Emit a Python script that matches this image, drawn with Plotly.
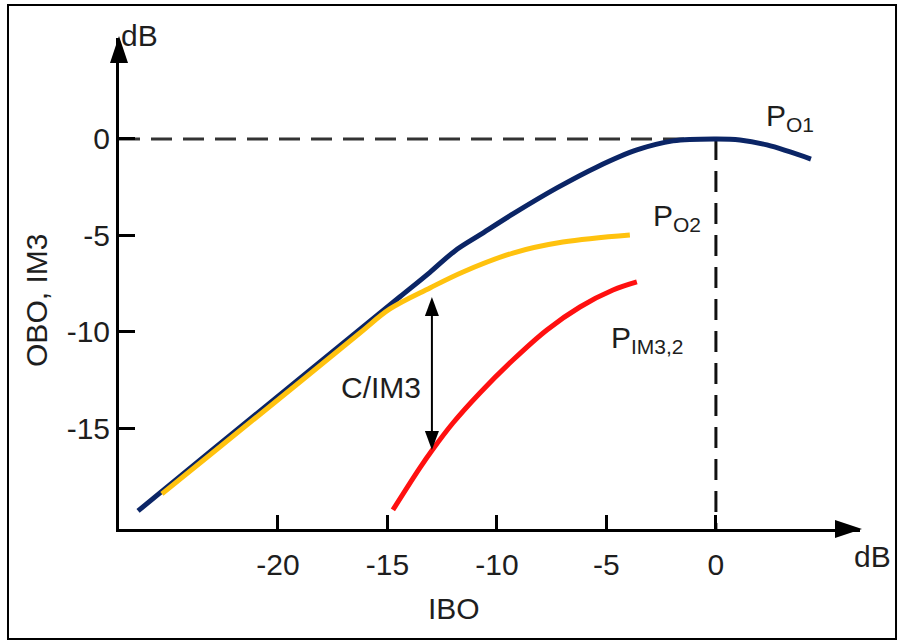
import plotly.graph_objects as go

# curves: IBO (dB) on x, OBO / IM3 level (dB) on y
ibo_po1 = [-26.39, -23.11, -19.00, -16.26, -14.43, -13.06, -11.92, -10.78, -9.27,
           -7.26, -5.43, -3.61, -1.96, 0.00, 1.10, 2.33, 4.34]
po1 = [-19.30, -16.24, -12.43, -9.89, -8.19, -6.92, -5.81, -4.98, -3.89,
       -2.54, -1.45, -0.57, -0.10, 0.00, -0.05, -0.31, -1.04]

ibo_po2 = [-25.30, -23.11, -19.00, -16.26, -14.89, -13.06, -11.55, -9.27, -6.99, -3.93]
po2 = [-18.42, -16.40, -12.61, -10.07, -8.82, -7.73, -6.90, -5.92, -5.35, -4.98]

ibo_im3 = [-14.75, -13.52, -12.92, -12.01, -10.78, -9.27, -7.72, -6.21, -4.70, -3.61]
pim3 = [-19.25, -17.07, -16.09, -14.74, -13.18, -11.47, -9.91, -8.72, -7.84, -7.42]

x_ticks = [-20, -15, -10, -5, 0]
x_tick_labels = ["-20", "-15", "-10", "-5", "0"]
y_ticks = [0, -5, -10, -15]
y_tick_labels = ["0", "-5", "-10", "-15"]

# C/IM3 marker between the two curves
cim3_x = -12.97
cim3_top = -8.20
cim3_bottom = -16.14

X_RANGE = [-27.26, 6.58]
Y_RANGE = [-20.24, 5.24]

NAVY = "#0b2566"
YELLOW = "#ffc20e"
RED = "#ff1010"
FONT = "Liberation Sans, Arial, sans-serif"
TXT = "#1e1e1e"

fig = go.Figure()
fig.add_trace(go.Scatter(x=ibo_po1, y=po1, mode="lines", line=dict(color=NAVY, width=5, shape="spline")))
fig.add_trace(go.Scatter(x=ibo_po2, y=po2, mode="lines", line=dict(color=YELLOW, width=5, shape="spline")))
fig.add_trace(go.Scatter(x=ibo_im3, y=pim3, mode="lines", line=dict(color=RED, width=5, shape="spline")))

dash = "21px,11px"
shapes = [
    # dashed guides at the 0 dB point
    dict(type="line", xref="x", yref="y", x0=X_RANGE[0], x1=0, y0=0, y1=0,
         line=dict(color="#333", width=3, dash=dash), layer="below"),
    dict(type="line", xref="x", yref="y", x0=0, x1=0, y0=0, y1=Y_RANGE[0],
         line=dict(color="#111", width=3, dash=dash), layer="below"),
    # C/IM3 double arrow
    dict(type="line", xref="x", yref="y", x0=cim3_x, x1=cim3_x, y0=cim3_top - 0.6, y1=cim3_bottom + 0.6,
         line=dict(color="black", width=2)),
    dict(type="path", xref="x", yref="y", xsizemode="pixel", ysizemode="pixel",
         xanchor=cim3_x, yanchor=cim3_top, path="M0,0 L-7,-19 L7,-19 Z",
         fillcolor="black", line=dict(width=0)),
    dict(type="path", xref="x", yref="y", xsizemode="pixel", ysizemode="pixel",
         xanchor=cim3_x, yanchor=cim3_bottom, path="M0,0 L-7,19 L7,19 Z",
         fillcolor="black", line=dict(width=0)),
    # axis arrowheads
    dict(type="path", xref="paper", yref="paper", xsizemode="pixel", ysizemode="pixel",
         xanchor=0, yanchor=1, path="M0,2 L-9,-25 L9,-25 Z",
         fillcolor="black", line=dict(width=0)),
    dict(type="path", xref="paper", yref="paper", xsizemode="pixel", ysizemode="pixel",
         xanchor=1, yanchor=0, path="M2,0 L-25,9 L-25,-9 Z",
         fillcolor="black", line=dict(width=0)),
    # outer frame
    dict(type="rect", xref="paper", yref="paper", x0=-0.1498, x1=1.0486, y0=-0.2240, y1=1.0672,
         line=dict(color="black", width=2)),
]

tfont = dict(family=FONT, size=30, color=TXT)


def label(text, x, y, ref="data", **kw):
    xr, yr = ("x", "y") if ref == "data" else ("paper", "paper")
    return dict(text=text, x=x, y=y, xref=xr, yref=yr, showarrow=False,
                xanchor="center", yanchor="middle", font=tfont, **kw)


annotations = [
    label("P<sub>O1</sub>", 3.38, 1.09),
    label("P<sub>O2</sub>", -1.78, -4.10),
    label("P<sub>IM3,2</sub>", -3.11, -10.43),
    label("C/IM3", -15.30, -12.92),
    label("IBO", 0.4521, -0.1609, ref="paper"),
    label("dB", 1.0175, -0.055, ref="paper"),
    label("dB", 0.0283, 1.0041, ref="paper"),
    label("OBO, IM3", -0.1107, 0.4664, ref="paper", textangle=-90),
]

fig.update_layout(
    width=900, height=641,
    margin=dict(l=119, r=40, t=38, b=112),
    paper_bgcolor="white", plot_bgcolor="white",
    showlegend=False,
    shapes=shapes,
    annotations=annotations,
    font=tfont,
)
fig.update_xaxes(range=X_RANGE, tickvals=x_ticks, ticktext=x_tick_labels,
                 ticks="inside", ticklen=14, tickwidth=3, tickcolor="black",
                 showline=True, linewidth=3, linecolor="black",
                 showgrid=False, zeroline=False, tickfont=tfont, ticklabelstandoff=7)
fig.update_yaxes(range=Y_RANGE, tickvals=y_ticks, ticktext=y_tick_labels,
                 ticks="inside", ticklen=16, tickwidth=3, tickcolor="black",
                 showline=True, linewidth=3, linecolor="black",
                 showgrid=False, zeroline=False, tickfont=tfont, ticklabelstandoff=0)

# page body has a default 8px margin; drop it so the figure sits at the window origin
fig.write_html("out.html", config={"displayModeBar": False},
               post_script="document.body.style.margin='0px';")
